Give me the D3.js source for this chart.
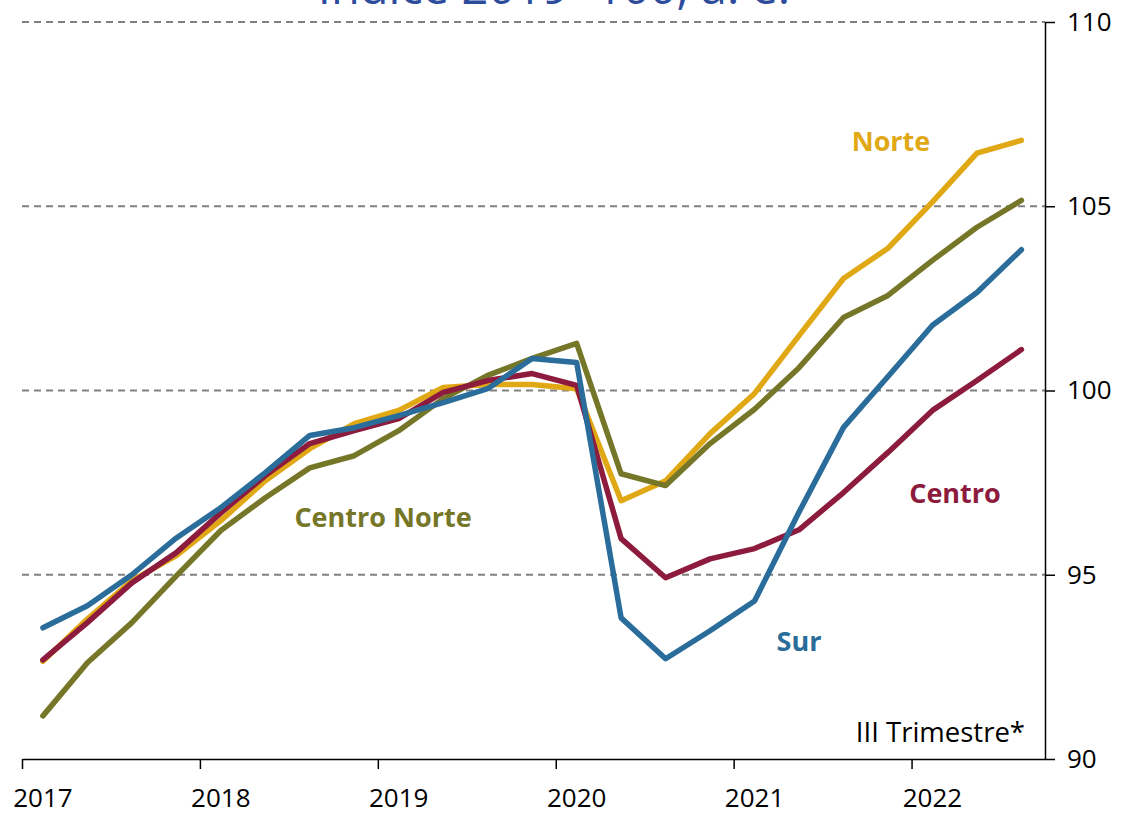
<!DOCTYPE html>
<html>
<head>
<meta charset="utf-8">
<script src="https://cdn.jsdelivr.net/npm/d3@7"></script>
<style>
  body { margin: 0; background: #fff; }
  text { font-family: "Open Sans", Lato, sans-serif; }
</style>
</head>
<body>
<div id="chart"></div>
<script>
// quarterly index 2019=100, 2017 Q1 .. 2022 Q3
const quarters = d3.range(23);
const yearLabels = ['2017', '2018', '2019', '2020', '2021', '2022'];
const yTicks = [90, 95, 100, 105, 110];

const norte = [92.65, 93.8, 94.84, 95.52, 96.47, 97.55, 98.42, 99.1, 99.46, 100.08, 100.16, 100.16,
    100.05, 97.01, 97.55, 98.83, 99.92, 101.49, 103.04, 103.86, 105.12, 106.44, 106.79];
const centroNorte = [91.17, 92.61, 93.7, 94.97, 96.2, 97.09, 97.9, 98.23, 98.91, 99.78, 100.41, 100.87,
    101.28, 97.74, 97.42, 98.56, 99.49, 100.62, 101.98, 102.58, 103.53, 104.43, 105.16];
const centro = [92.69, 93.7, 94.78, 95.6, 96.68, 97.69, 98.56, 98.91, 99.24, 99.95, 100.27, 100.46,
    100.14, 95.98, 94.92, 95.43, 95.71, 96.22, 97.23, 98.32, 99.46, 100.27, 101.11];
const sur = [93.56, 94.16, 95.0, 96.0, 96.82, 97.77, 98.78, 98.99, 99.32, 99.67, 100.05, 100.87,
    100.76, 93.83, 92.72, 93.48, 94.29, 96.7, 99.0, 100.38, 101.77, 102.66, 103.82];

const Series = [
    {name: 'Norte', values: norte, color: '#E0A814', lx: 891, ly: 142},
    {name: 'Centro Norte', values: centroNorte, color: '#767628', lx: 383, ly: 518},
    {name: 'Centro', values: centro, color: '#8C1B3D', lx: 955, ly: 494},
    {name: 'Sur', values: sur, color: '#2A6C9A', lx: 799, ly: 642}
];

const W = 1129, H = 816;
const svg = d3.select('#chart').append('svg')
    .attr('width', W)
    .attr('height', H);

const x = d3.scaleLinear().domain([0, 23]).range([22, 1045]);
const y = d3.scaleLinear().domain([90, 110]).range([759, 22]);

// title, cut off at the top edge as in the original
svg.append('text')
    .attr('x', 554)
    .attr('y', 4)
    .attr('text-anchor', 'middle')
    .attr('fill', '#2E4C9C')
    .attr('font-size', 47)
    .text('Índice 2019=100, a. e.');

// dashed grid
svg.append('g')
    .selectAll('line')
    .data(yTicks.filter(function(d) { return d > 90; }))
    .enter()
    .append('line')
    .attr('x1', 22)
    .attr('x2', 1045)
    .attr('y1', function(d) { return y(d); })
    .attr('y2', function(d) { return y(d); })
    .attr('stroke', '#808080')
    .attr('stroke-width', 1.8)
    .attr('stroke-dasharray', '7,5');

// right axis
const yAxis = d3.axisRight(y)
    .tickValues(yTicks)
    .tickSize(10)
    .tickSizeOuter(0)
    .tickPadding(12);
const gy = svg.append('g')
    .attr('transform', 'translate(1045,0)')
    .call(yAxis);
gy.select('.domain').attr('stroke', '#000').attr('stroke-width', 1.5);
gy.selectAll('.tick line').attr('stroke', '#000').attr('stroke-width', 1.5);
gy.selectAll('.tick text')
    .attr('font-family', '"Open Sans", sans-serif')
    .attr('font-size', 26)
    .attr('fill', '#000');

// bottom axis: ticks at year boundaries, labels under first quarter
const xAxis = d3.axisBottom(x)
    .tickValues([0, 4, 8, 12, 16, 20])
    .tickSize(10)
    .tickSizeOuter(0)
    .tickFormat('');
const gx = svg.append('g')
    .attr('transform', 'translate(0,' + y(90) + ')')
    .call(xAxis);
gx.select('.domain').attr('stroke', '#000').attr('stroke-width', 1.5);
gx.selectAll('.tick line').attr('stroke', '#000').attr('stroke-width', 1.5);

svg.append('g')
    .selectAll('text')
    .data(yearLabels)
    .enter()
    .append('text')
    .attr('x', function(d, i) { return x(i * 4 + 0.47); })
    .attr('y', 807)
    .attr('text-anchor', 'middle')
    .attr('font-size', 26)
    .attr('fill', '#000')
    .text(function(d) { return d; });

// lines
const line = d3.line()
    .x(function(d, i) { return x(quarters[i] + 0.47); })
    .y(function(d) { return y(d); });

svg.append('g')
    .selectAll('path')
    .data(Series)
    .enter()
    .append('path')
    .attr('d', function(d) { return line(d.values); })
    .attr('fill', 'none')
    .attr('stroke', function(d) { return d.color; })
    .attr('stroke-width', 5.5)
    .attr('stroke-linejoin', 'round')
    .attr('stroke-linecap', 'round');

// series labels
svg.append('g')
    .selectAll('text')
    .data(Series)
    .enter()
    .append('text')
    .attr('x', function(d) { return d.lx; })
    .attr('y', function(d) { return d.ly; })
    .attr('dy', '0.35em')
    .attr('text-anchor', 'middle')
    .attr('font-size', 27)
    .attr('font-weight', 'bold')
    .attr('fill', function(d) { return d.color; })
    .text(function(d) { return d.name; });

svg.append('text')
    .attr('x', 1025)
    .attr('y', 732)
    .attr('dy', '0.35em')
    .attr('text-anchor', 'end')
    .attr('font-size', 27.5)
    .attr('fill', '#000')
    .text('III Trimestre*');
</script>
</body>
</html>
